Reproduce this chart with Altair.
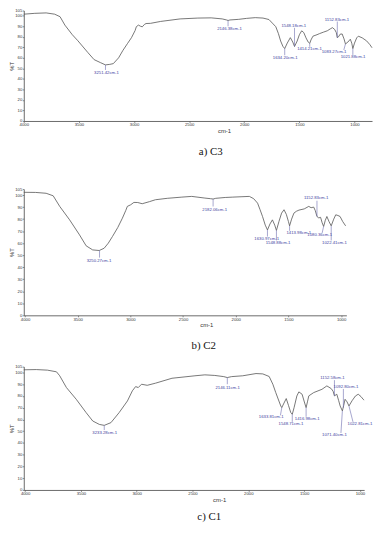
import altair as alt
import pandas as pd

# ---------------- data ----------------
# Panel a) C3
a_wn = [4000, 3900, 3797, 3720, 3671, 3627, 3560, 3509, 3420, 3362, 3303, 3259, 3220, 3188, 3140, 3100,
        3060, 3023, 2990, 2979, 2960, 2940, 2925, 2905, 2891, 2850, 2759, 2582, 2421, 2300, 2200, 2160,
        2147, 2130, 2050, 1979, 1900, 1830, 1776, 1745, 1714, 1690, 1670, 1650, 1633, 1610, 1582, 1560,
        1544, 1520, 1500, 1479, 1460, 1440, 1420, 1406, 1395, 1377, 1340, 1318, 1280, 1247, 1220, 1200,
        1180, 1165, 1156, 1145, 1130, 1112, 1095, 1082, 1060, 1038, 1025, 1015, 1000, 980, 965, 930,
        891, 860, 841]
a_t = [101.5, 102.3, 102.7, 101.5, 99.1, 91.1, 82, 76.2, 65.2, 58.3, 55.4, 53.3, 53.8, 54.5, 60, 67.2,
       73.5, 79.2, 86, 89.6, 91.1, 90, 89.5, 91.8, 92.6, 92.8, 94.6, 97, 97.8, 98, 97, 96,
       95.5, 96, 96.6, 97.5, 98.2, 97.8, 96.4, 93, 89.6, 83, 76, 71, 68.8, 74, 79.2, 75,
       70.8, 76, 82, 85.7, 84, 79, 75, 73.8, 77, 80.6, 82, 83, 84.5, 85.7, 87.5, 88.7,
       87, 84, 79.2, 80, 82.5, 82.7, 78, 73.2, 75, 77.7, 74, 68.8, 74, 79, 80.6, 79,
       76.2, 72.5, 69.6]
a_lab = ["3251.42cm-1", "2146.38cm-1", "1634.20cm-1", "1548.18cm-1", "1414.21cm-1",
         "1152.83cm-1", "1083.27cm-1", "1021.88cm-1"]
a_tx = [3250, 2134, 1629, 1550, 1408, 1159, 1185, 1013]
a_ty = [45.5, 87.5, 60, 90.5, 68.5, 96.4, 65.6, 60.7]
a_lx1 = [3259, 2147, 1633, 1544, 1406, 1156, 1082, 1015]
a_ly1 = [53.3, 95.5, 68.8, 70.8, 73.8, 79.2, 73.2, 68.8]
a_lx2 = [3259, 2147, 1633, 1544, 1406, 1156, 1097, 1015]
a_ly2 = [48.5, 90, 62.5, 88.5, 70.5, 94.5, 67.5, 62.8]

# Panel b) C2
b_wn = [4012, 3900, 3800, 3733, 3671, 3577, 3483, 3420, 3358, 3296, 3249, 3210, 3170, 3120, 3076, 3045,
        3029, 2998, 2967, 2930, 2888, 2820, 2763, 2650, 2512, 2418, 2293, 2240, 2215, 2190, 2100, 2028,
        1950, 1871, 1830, 1793, 1770, 1746, 1720, 1699, 1675, 1652, 1630, 1614, 1590, 1565, 1542, 1520,
        1500, 1489, 1470, 1448, 1425, 1400, 1350, 1307, 1285, 1260, 1245, 1229, 1212, 1195, 1180, 1166,
        1150, 1135, 1115, 1094, 1070, 1051, 1030, 1010, 985, 957]
b_t = [102.3, 102.2, 101.5, 99.4, 90.6, 79.4, 66.9, 57.8, 54.4, 53.9, 55.8, 60, 65.6, 73, 80.8, 87,
       90.6, 91.9, 93.9, 93.8, 92.8, 94.5, 96.1, 97.3, 98.3, 98.9, 97.5, 97, 96.7, 97.3, 98, 98.3,
       98.6, 98.9, 97, 93.3, 88, 82.2, 75, 71, 76, 79.4, 75, 70.6, 78, 85, 87.8, 84,
       78, 74.4, 80, 85, 86.5, 87.5, 88.5, 90.6, 89.5, 90, 87, 82.2, 81, 81.5, 77, 73.9,
       79, 82.2, 78, 74.4, 80, 83.6, 83, 82.2, 78, 74.4]
b_lab = ["3250.27cm-1", "2182.06cm-1", "1630.97cm-1", "1548.88cm-1", "1413.98cm-1",
         "1152.83cm-1", "1080.36cm-1", "1022.41cm-1"]
b_tx = [3298, 2200, 1706, 1598, 1401, 1237, 1203, 1063]
b_ty = [45.3, 87.8, 63.3, 60, 68.3, 97.5, 66.4, 60]
b_lx1 = [3293, 2215, 1699, 1614, 1489, 1229, 1166, 1094]
b_ly1 = [53.9, 96.7, 71, 70.6, 74.4, 82.2, 73.9, 74.4]
b_lx2 = [3293, 2215, 1699, 1614, 1489, 1229, 1180, 1094]
b_ly2 = [48, 90.5, 65.5, 62.3, 70.3, 95.3, 68.5, 62.3]

# Panel c) C1
c_wn = [4012, 3900, 3800, 3719, 3690, 3630, 3542, 3453, 3394, 3335, 3291, 3231, 3158, 3083, 3039, 3010,
        2986, 2957, 2906, 2832, 2684, 2478, 2389, 2300, 2220, 2188, 2150, 2050, 1931, 1870, 1813, 1780,
        1754, 1709, 1700, 1680, 1660, 1640, 1620, 1606, 1590, 1565, 1547, 1518, 1495, 1482, 1470, 1458,
        1414, 1340, 1296, 1257, 1240, 1228, 1207, 1190, 1177, 1157, 1145, 1133, 1115, 1098, 1070, 1040,
        1015, 990, 971, 962]
c_t = [102.3, 102.5, 102, 100.6, 97.2, 87.2, 77.2, 65.8, 58.7, 55.8, 55, 57.3, 65.8, 75.8, 84.4, 88,
       87.2, 90, 89.1, 90.9, 95.1, 97.2, 98, 97.5, 96.5, 95.7, 96.5, 97.2, 99.1, 98.8, 96.6, 90,
       82.9, 71.5, 70.1, 74, 77.8, 72, 66, 64.4, 70, 80, 83.5, 81.5, 74, 70.1, 75, 80.1,
       82.9, 85.7, 88.6, 86.3, 84, 80.1, 81.5, 76, 71.5, 67.3, 72, 77.2, 75, 71.5, 76, 80,
       81.5, 79.5, 77.2, 76.5]
c_lab = ["3233.28cm-1", "2146.11cm-1", "1633.81cm-1", "1548.71cm-1", "1416.98cm-1",
         "1152.58cm-1", "1092.80cm-1", "1071.40cm-1", "1022.81cm-1"]
c_tx = [3287, 2185, 1795, 1618, 1472, 1246, 1125, 1228, 1000]
c_ty = [48.1, 87.2, 62.1, 55.8, 60, 95.7, 88, 46.4, 55.8]
c_lx1 = [3291, 2188, 1700, 1606, 1482, 1228, 1148, 1157, 1098]
c_ly1 = [55, 95.7, 70.1, 64.4, 70.1, 80.1, 70, 67.3, 71.5]
c_lx2 = [3291, 2188, 1712, 1606, 1482, 1228, 1148, 1170, 1062]
c_ly2 = [51, 90, 63.5, 58, 62.3, 93.5, 86, 48.5, 58]

captions = ["a) C3", "b) C2", "c) C1"]
x_ticks = [4000, 3500, 3000, 2500, 2000, 1500, 1000]
y_ticks = [0, 10, 20, 30, 40, 50, 60, 70, 80, 90, 100, 105]

CURVE = "#555555"
BLUE = "#3d3d9e"
LEAD = "#6a6aae"
SANS = "Liberation Sans"
SERIF = "Liberation Serif"


def panel(wn, t, lab, tx, ty, lx1, ly1, lx2, ly2, dom, w, h, title_x, title=None, bottom_caption=None):
    xsc = alt.Scale(domain=dom, nice=False, zero=False)
    ysc = alt.Scale(domain=[0, 105], nice=False, zero=False)
    xax = alt.Axis(values=x_ticks, format="d", title="cm-1", titleX=title_x, titleAlign="center")
    yax = alt.Axis(values=y_ticks, format="d", title="%T")
    curve = pd.DataFrame({"wn": wn, "T": t})
    peaks = pd.DataFrame({"lab": lab, "tx": tx, "ty": ty,
                          "lx1": lx1, "ly1": ly1, "lx2": lx2, "ly2": ly2})
    line = alt.Chart(curve).mark_line(color=CURVE, strokeWidth=0.8).encode(
        x=alt.X("wn:Q", scale=xsc, axis=xax),
        y=alt.Y("T:Q", scale=ysc, axis=yax),
        order=alt.Order("wn:Q", sort="descending"),
    )
    rules = alt.Chart(peaks).mark_rule(color=LEAD, strokeWidth=0.6).encode(
        x=alt.X("lx1:Q", scale=xsc, axis=xax),
        y=alt.Y("ly1:Q", scale=ysc, axis=yax),
        x2="lx2:Q", y2="ly2:Q",
    )
    texts = alt.Chart(peaks).mark_text(color=BLUE, font=SANS, fontSize=4.3,
                                        align="center", baseline="middle").encode(
        x=alt.X("tx:Q", scale=xsc, axis=xax),
        y=alt.Y("ty:Q", scale=ysc, axis=yax),
        text="lab:N",
    )
    layers = [line, rules, texts]
    if bottom_caption is not None:
        cap_text, cap_x, cap_y = bottom_caption
        cap = alt.Chart(pd.DataFrame({"cap": [cap_text]})).mark_text(
            font=SERIF, fontSize=11, color="#111111", align="center", baseline="middle"
        ).encode(text="cap:N", x=alt.value(cap_x), y=alt.value(cap_y))
        layers.append(cap)
    ch = alt.layer(*layers).properties(width=w, height=h)
    if title is not None:
        ch = ch.properties(title=title)
    return ch


def top_caption(text, offset, dx):
    return alt.TitleParams(text, orient="top", font=SERIF, fontSize=11, fontWeight="normal",
                           color="#111111", offset=offset, dx=dx)


pa = panel(a_wn, a_t, a_lab, a_tx, a_ty, a_lx1, a_ly1, a_lx2, a_ly2, [4000, 841], 353, 112, 203)
pb = panel(b_wn, b_t, b_lab, b_tx, b_ty, b_lx1, b_ly1, b_lx2, b_ly2, [4012, 950], 327, 128, 185,
           title=top_caption(captions[0], 31, 26))
pc = panel(c_wn, c_t, c_lab, c_tx, c_ty, c_lx1, c_ly1, c_lx2, c_ly2, [4012, 962], 345, 125, 198,
           title=top_caption(captions[1], 14, 10),
           bottom_caption=(captions[2], 188, 152))

chart = alt.vconcat(pa, pb, pc, spacing=12).properties(
    padding={"left": 0, "top": -3, "right": 0, "bottom": 0},
).configure_view(stroke=None).configure_axis(
    grid=False,
    labelFont=SANS, labelFontSize=4.3, labelColor="#333333", labelPadding=0.5,
    labelOverlap=False, labelFlush=False,
    titleFont=SANS, titleFontSize=6, titleFontWeight="normal", titleColor="#333333",
    tickSize=1.5, tickColor="#444444", domainColor="#444444", domainWidth=0.8, tickWidth=0.6,
).configure_axisX(titlePadding=0).configure_axisY(titlePadding=0.5)

chart.save("out.html", embed_options={"renderer": "svg", "actions": False})
